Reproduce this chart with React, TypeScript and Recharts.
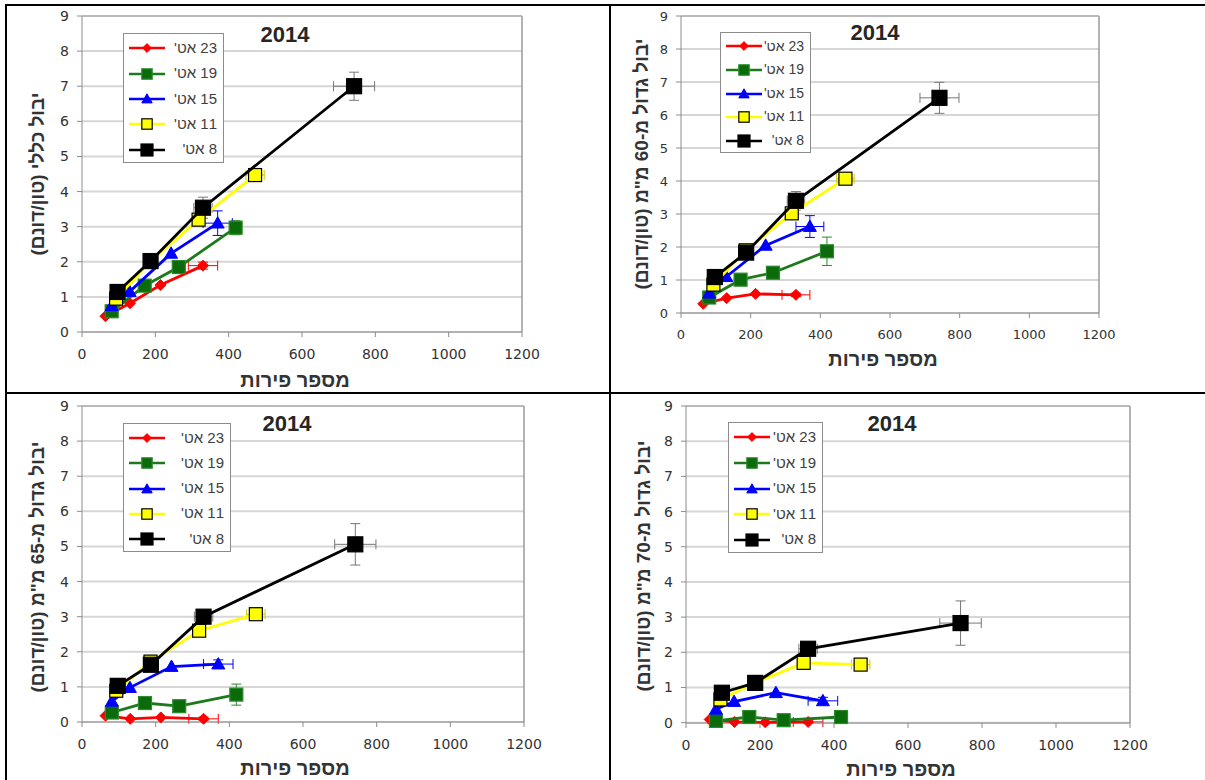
import React from 'react';
import { ScatterChart, Scatter, XAxis, YAxis, CartesianGrid, ErrorBar, ReferenceLine } from 'recharts';

// harvest dates (legend order)
const DATES = ["23 אט'", "19 אט'", "15 אט'", "11 אט'", "8 אט'"];

// fruit count per tree, one array per harvest date
const FRUITS_23 = [64, 131, 214, 330];
const FRUITS_19 = [81, 171, 264, 419];
const FRUITS_15 = [81, 130, 243, 370];
const FRUITS_11 = [93, 186, 318, 472];
const FRUITS_8 = [97, 187, 330, 742];
const FRUITS = [FRUITS_23, FRUITS_19, FRUITS_15, FRUITS_11, FRUITS_8];

// standard error of fruit count
const FRUIT_ERR = [
  [0, 0, 0, 40],
  [0, 0, 0, 15],
  [0, 0, 0, 40],
  [0, 0, 10, 25],
  [0, 0, 25, 56],
];

// yield (ton/dunam), rows follow DATES
const YIELD_TOTAL = [
  [0.45, 0.82, 1.34, 1.89],
  [0.59, 1.32, 1.85, 2.97],
  [0.75, 1.15, 2.24, 3.1],
  [0.95, 2.0, 3.2, 4.47],
  [1.14, 2.02, 3.54, 7.0],
];
const YIELD_60 = [
  [0.28, 0.45, 0.58, 0.55],
  [0.47, 1.01, 1.22, 1.87],
  [0.6, 1.1, 2.05, 2.62],
  [0.86, 1.9, 3.02, 4.07],
  [1.09, 1.83, 3.4, 6.52],
];
const YIELD_65 = [
  [0.18, 0.09, 0.13, 0.09],
  [0.27, 0.54, 0.45, 0.78],
  [0.59, 0.98, 1.58, 1.65],
  [0.89, 1.72, 2.6, 3.07],
  [1.03, 1.63, 3.0, 5.06],
];
const YIELD_70 = [
  [0.09, 0.02, 0.01, 0.02],
  [0.05, 0.16, 0.07, 0.16],
  [0.38, 0.6, 0.85, 0.62],
  [0.66, 1.13, 1.7, 1.65],
  [0.85, 1.13, 2.1, 2.83],
];

// standard error of yield
const ERR_TOTAL = [
  [0, 0, 0, 0.1],
  [0, 0, 0, 0.2],
  [0, 0, 0, 0.35],
  [0, 0, 0.15, 0.1],
  [0, 0, 0.3, 0.4],
];
const ERR_60 = [
  [0, 0, 0, 0.05],
  [0, 0, 0, 0.43],
  [0, 0, 0, 0.33],
  [0, 0, 0.15, 0.1],
  [0, 0, 0.28, 0.47],
];
const ERR_65 = [
  [0, 0, 0, 0.05],
  [0, 0, 0, 0.3],
  [0, 0, 0, 0.12],
  [0, 0, 0.1, 0.1],
  [0, 0, 0.15, 0.59],
];
const ERR_70 = [
  [0, 0, 0, 0.03],
  [0, 0, 0, 0.05],
  [0, 0, 0, 0.1],
  [0, 0, 0.05, 0.05],
  [0, 0, 0.1, 0.63],
];

const X_TICKS = [0, 200, 400, 600, 800, 1000, 1200];
const Y_TICKS = [0, 1, 2, 3, 4, 5, 6, 7, 8, 9];
const TITLE = '2014';
const X_LABEL = 'מספר פירות';

const STYLES = [
  { kind: 'diamond', size: 11, fill: '#ff0000', stroke: '#ff0000', line: '#ff0000', lw: 2.8, err: '#ff0000' },
  { kind: 'square', size: 13, fill: '#0b6b0b', stroke: '#2c8a2c', line: '#1c7a1c', lw: 2.8, err: '#2c8a2c' },
  { kind: 'triangle', size: 13, fill: '#0000ff', stroke: '#0000ff', line: '#0000ff', lw: 2.8, err: '#0000ff' },
  { kind: 'square', size: 13, fill: '#ffff00', stroke: '#000000', line: '#ffff00', lw: 2.8, err: '#cccc00' },
  { kind: 'square', size: 15, fill: '#000000', stroke: '#000000', line: '#000000', lw: 2.8, err: '#777777' },
];

const Y_AXIS_W = 30;
const X_AXIS_H = 22;
const TICK_FONT = 'DejaVu Sans, Verdana, sans-serif';
const HEB_FONT = 'Liberation Sans, Arial, sans-serif';

const PANELS = [
  {
    yLabel: 'יבול כללי (טון/דונם)', yields: YIELD_TOTAL, errs: ERR_TOTAL, tickSize: 14,
    box: { left: 8, top: 8, width: 592, height: 382 }, plot: { x0: 82, x1: 522, y0: 16, y1: 332 },
    title: { x: 285, y: 35 }, legend: { x: 123, y: 33, w: 101, h: 130, font: 15 },
    yLab: { x: 38, y: 174 }, xLab: { x: 295, y: 380 },
  },
  {
    yLabel: 'יבול גדול מ-60 מ"מ (טון/דונם)', yields: YIELD_60, errs: ERR_60, tickSize: 13,
    box: { left: 615, top: 8, width: 590, height: 382 }, plot: { x0: 681, x1: 1099, y0: 16, y1: 313 },
    title: { x: 875, y: 33 }, legend: { x: 720, y: 32, w: 91, h: 121, font: 14 },
    yLab: { x: 642, y: 164 }, xLab: { x: 883, y: 359 },
  },
  {
    yLabel: 'יבול גדול מ-65 מ"מ (טון/דונם)', yields: YIELD_65, errs: ERR_65, tickSize: 14,
    box: { left: 8, top: 397, width: 592, height: 383 }, plot: { x0: 82, x1: 524, y0: 406, y1: 722 },
    title: { x: 287, y: 424 }, legend: { x: 123, y: 423, w: 108, h: 129, font: 15 },
    yLab: { x: 38, y: 567 }, xLab: { x: 295, y: 768 },
  },
  {
    yLabel: 'יבול גדול מ-70 מ"מ (טון/דונם)', yields: YIELD_70, errs: ERR_70, tickSize: 14,
    box: { left: 615, top: 397, width: 590, height: 383 }, plot: { x0: 686, x1: 1130, y0: 406, y1: 723 },
    title: { x: 892, y: 424 }, legend: { x: 728, y: 422, w: 95, h: 131, font: 15 },
    yLab: { x: 644, y: 566 }, xLab: { x: 901, y: 769 },
  },
];

type Style = typeof STYLES[number];

const Marker = ({ st, cx, cy }: { st: Style; cx: number; cy: number }) => {
  const h = st.size / 2;
  if (st.kind === 'diamond') {
    return <polygon points={`${cx},${cy - h} ${cx + h},${cy} ${cx},${cy + h} ${cx - h},${cy}`} fill={st.fill} stroke={st.stroke} strokeWidth={1} />;
  }
  if (st.kind === 'triangle') {
    return <polygon points={`${cx},${cy - h} ${cx + h},${cy + h * 0.75} ${cx - h},${cy + h * 0.75}`} fill={st.fill} stroke={st.stroke} strokeWidth={1} />;
  }
  return <rect x={cx - h} y={cy - h} width={st.size} height={st.size} fill={st.fill} stroke={st.stroke} strokeWidth={1.2} />;
};

const buildSeries = (yields: number[][], errs: number[][]) =>
  FRUITS.map((xs, i) => xs.map((x, j) => ({ x, y: yields[i][j], ex: FRUIT_ERR[i][j], ey: errs[i][j] })));

const Legend = ({ x, y, w, h, font }: { x: number; y: number; w: number; h: number; font: number }) => {
  const step = (h * 0.78) / 4;
  return (
    <div style={{ position: 'absolute', left: x, top: y, width: w, height: h, border: '1px solid #8c8c8c', background: '#fff', boxSizing: 'border-box' }}>
      {DATES.map((d, i) => {
        const cy = h * 0.11 + i * step;
        const st = STYLES[i];
        return (
          <React.Fragment key={d}>
            <svg style={{ position: 'absolute', left: 4, top: cy - 9 }} width={38} height={18}>
              <line x1={1} y1={9} x2={37} y2={9} stroke={st.line} strokeWidth={2.5} />
              <Marker st={{ ...st, size: st.size * 0.8 }} cx={19} cy={9} />
            </svg>
            <div dir="rtl" style={{ position: 'absolute', right: 6, top: cy - font * 0.62, fontFamily: HEB_FONT, fontSize: font, color: '#404040', whiteSpace: 'nowrap', lineHeight: 1.2 }}>
              {d}
            </div>
          </React.Fragment>
        );
      })}
    </div>
  );
};

const Panel = ({ p }: { p: typeof PANELS[number] }) => {
  const series = buildSeries(p.yields, p.errs);
  const margin = {
    top: p.plot.y0 - p.box.top,
    left: p.plot.x0 - p.box.left - Y_AXIS_W,
    right: p.box.left + p.box.width - p.plot.x1,
    bottom: p.box.top + p.box.height - p.plot.y1 - X_AXIS_H,
  };
  const tick = { fontSize: p.tickSize, fill: '#333', fontFamily: TICK_FONT };
  return (
    <>
      <div style={{ position: 'absolute', left: p.box.left, top: p.box.top }}>
        <ScatterChart width={p.box.width} height={p.box.height} margin={margin}>
          <CartesianGrid vertical={false} stroke="#d6d6d6" strokeWidth={2} />
          <XAxis type="number" dataKey="x" domain={[0, 1200]} ticks={X_TICKS} height={X_AXIS_H}
            tick={tick} tickSize={5} tickMargin={12} axisLine={{ stroke: '#8c8c8c' }} tickLine={{ stroke: '#8c8c8c' }} />
          <YAxis type="number" dataKey="y" domain={[0, 9]} ticks={Y_TICKS} width={Y_AXIS_W}
            tick={tick} tickSize={5} tickMargin={8} axisLine={{ stroke: '#8c8c8c' }} tickLine={{ stroke: '#8c8c8c' }} />
          <ReferenceLine x={1200} stroke="#9a9a9a" strokeWidth={1.5} />
          <ReferenceLine y={9} stroke="#b0b0b0" strokeWidth={1.5} />
          {series.map((pts, i) => {
            const st = STYLES[i];
            return (
              <Scatter key={DATES[i]} name={DATES[i]} data={pts} isAnimationActive={false}
                line={{ stroke: st.line, strokeWidth: st.lw }}
                shape={(sp: any) => <Marker st={st} cx={sp.cx} cy={sp.cy} />}>
                <ErrorBar dataKey="ex" direction="x" width={5} stroke={st.err} strokeWidth={1} isAnimationActive={false} />
                <ErrorBar dataKey="ey" direction="y" width={5} stroke={st.err} strokeWidth={1} isAnimationActive={false} />
              </Scatter>
            );
          })}
        </ScatterChart>
      </div>
      <div style={{ position: 'absolute', left: p.title.x, top: p.title.y, transform: 'translate(-50%, -50%)', fontFamily: HEB_FONT, fontWeight: 'bold', fontSize: 22, color: '#262626' }}>
        {TITLE}
      </div>
      <Legend {...p.legend} />
      <div dir="rtl" style={{ position: 'absolute', left: p.xLab.x, top: p.xLab.y, transform: 'translate(-50%, -50%)', fontFamily: HEB_FONT, fontWeight: 'bold', fontSize: 20, color: '#333', whiteSpace: 'nowrap' }}>
        {X_LABEL}
      </div>
      <div dir="rtl" style={{ position: 'absolute', left: p.yLab.x, top: p.yLab.y, transform: 'translate(-50%, -50%) rotate(-90deg)', fontFamily: HEB_FONT, fontWeight: 'bold', fontSize: 19, color: '#333', whiteSpace: 'nowrap' }}>
        {p.yLabel}
      </div>
    </>
  );
};

const rule = (s: React.CSSProperties) => <div style={{ position: 'absolute', background: '#000', ...s }} />;

export default function App() {
  return (
    <div style={{ position: 'absolute', left: 0, top: 0, width: 1205, height: 780, background: '#fff', overflow: 'hidden' }}>
      {PANELS.map((p, i) => <Panel key={i} p={p} />)}
      {rule({ left: 5, top: 4, width: 1200, height: 2 })}
      {rule({ left: 5, top: 392, width: 1200, height: 2 })}
      {rule({ left: 5, top: 4, width: 2, height: 776 })}
      {rule({ left: 609, top: 4, width: 2, height: 776 })}
    </div>
  );
}
